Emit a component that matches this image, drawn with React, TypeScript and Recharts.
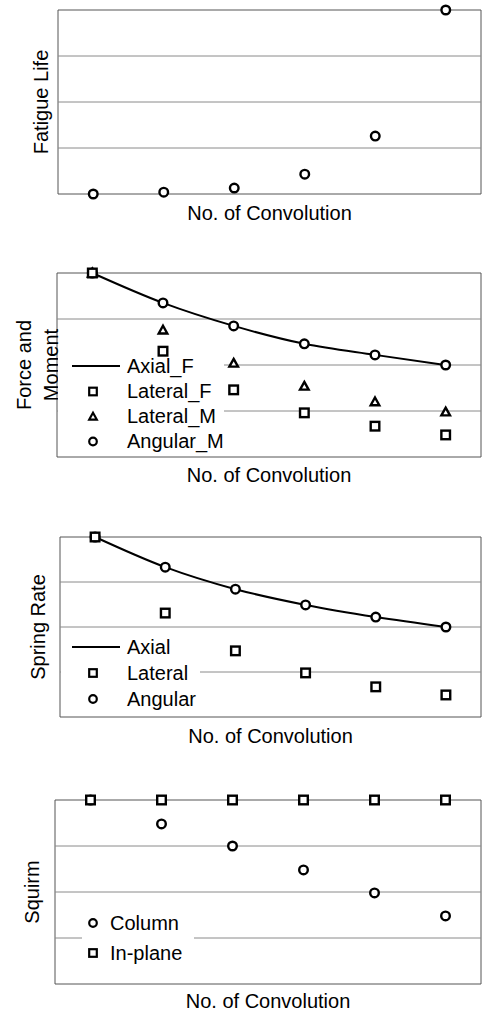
import React from 'react';
import {
  ComposedChart,
  Line,
  Scatter,
  XAxis,
  YAxis,
  ReferenceArea,
  ReferenceLine,
  Legend,
} from 'recharts';

// values, in grid units (4 divisions per panel)
const convolutions = [1, 2, 3, 4, 5, 6];
const gridTicks = [0, 1, 2, 3, 4];
const innerGrid = [1, 2, 3];

const fatigueLife = [0, 0.04, 0.13, 0.43, 1.26, 4.0];

const forceAxialF = [4.0, 3.35, 2.85, 2.46, 2.22, 2.0];
const forceLateralF = [4.0, 2.3, 1.46, 0.96, 0.67, 0.48];
const forceLateralM = [4.0, 2.76, 2.04, 1.54, 1.2, 0.98];
const forceAngularM = [4.0, 3.35, 2.85, 2.46, 2.22, 2.0];

const springAxial = [4.0, 3.33, 2.84, 2.49, 2.22, 2.0];
const springLateral = [4.0, 2.31, 1.47, 0.98, 0.67, 0.49];
const springAngular = [4.0, 3.33, 2.84, 2.49, 2.22, 2.0];

const squirmColumn = [4.0, 3.48, 3.0, 2.48, 1.98, 1.48];
const squirmInPlane = [4.0, 4.0, 4.0, 4.0, 4.0, 4.0];

const FONT = '"Liberation Sans", Arial, sans-serif';
const X_LABEL = 'No. of Convolution';

type Kind = 'circle' | 'square' | 'triangle' | 'line';

const fatigueData = convolutions.map((n, i) => ({ n, life: fatigueLife[i] }));
const forceData = convolutions.map((n, i) => ({
  n,
  axialF: forceAxialF[i],
  lateralF: forceLateralF[i],
  lateralM: forceLateralM[i],
  angularM: forceAngularM[i],
}));
const springData = convolutions.map((n, i) => ({
  n,
  axial: springAxial[i],
  lateral: springLateral[i],
  angular: springAngular[i],
}));
const squirmData = convolutions.map((n, i) => ({
  n,
  column: squirmColumn[i],
  inPlane: squirmInPlane[i],
}));

function Mark({ kind, cx, cy, r, sw = 2.4 }: { kind: Kind; cx: number; cy: number; r: number; sw?: number }) {
  if (kind === 'square') {
    return (
      <rect x={cx - r} y={cy - r} width={2 * r} height={2 * r} fill="#fff" stroke="#000" strokeWidth={sw} />
    );
  }
  if (kind === 'triangle') {
    return (
      <polygon
        points={`${cx},${cy - r} ${cx + r},${cy + r * 0.8} ${cx - r},${cy + r * 0.8}`}
        fill="#fff"
        stroke="#000"
        strokeWidth={sw}
      />
    );
  }
  if (kind === 'line') {
    return <line x1={cx - 24} x2={cx + 24} y1={cy} y2={cy} stroke="#000" strokeWidth={2} />;
  }
  return <circle cx={cx} cy={cy} r={r} fill="#fff" stroke="#000" strokeWidth={sw} />;
}

const shape = (kind: Kind) => (p: any) => <Mark kind={kind} cx={p.cx} cy={p.cy} r={4.3} />;

const yLabel = (lines: string[], xs: number[]) => (props: any) => {
  const vb = props.viewBox;
  const cy = vb.y + vb.height / 2;
  return (
    <g>
      {lines.map((t, i) => (
        <text
          key={t}
          x={xs[i]}
          y={cy}
          transform={`rotate(-90, ${xs[i]}, ${cy})`}
          textAnchor="middle"
          dominantBaseline="central"
          fontSize={20}
          fontFamily={FONT}
          fill="#000"
        >
          {t}
        </text>
      ))}
    </g>
  );
};

// legend rows: first row may be shorter so the white box does not cover marks above it
function legendBox(
  items: { name: string; kind: Kind }[],
  rowH: number,
  firstH: number,
  iconW: number,
  markX: number,
  gap: number,
  padL: number,
  padR: number
) {
  return () => (
    <div style={{ background: '#fff', paddingLeft: padL, paddingRight: padR, fontFamily: FONT }}>
      {items.map((it, i) => {
        const h = i === 0 ? firstH : rowH;
        return (
          <div
            key={it.name}
            style={{
              display: 'flex',
              alignItems: 'center',
              height: h,
              marginTop: i === 1 ? (rowH - firstH) / 2 : 0,
            }}
          >
            <svg width={iconW} height={h} style={{ display: 'block' }}>
              <Mark kind={it.kind} cx={it.kind === 'line' ? 24 : markX} cy={h / 2} r={3.8} sw={2.2} />
            </svg>
            <span style={{ marginLeft: gap, fontSize: 20, lineHeight: `${h}px`, color: '#000' }}>
              {it.name}
            </span>
          </div>
        );
      })}
    </div>
  );
}

function Frame({
  data,
  top,
  height,
  margin,
  axisW,
  axisH,
  labelOffset,
  ylabel,
  children,
}: {
  data: any[];
  top: number;
  height: number;
  margin: { top: number; right: number };
  axisW: number;
  axisH: number;
  labelOffset: number;
  ylabel: (p: any) => React.ReactElement;
  children: React.ReactNode;
}) {
  return (
    <div style={{ position: 'absolute', left: 0, top, width: 483, height }}>
      <ComposedChart
        width={483}
        height={height}
        data={data}
        margin={{ top: margin.top, right: margin.right, left: 0, bottom: 0 }}
      >
        <XAxis
          dataKey="n"
          type="number"
          domain={[0.5, 6.5]}
          ticks={convolutions}
          tick={false}
          tickLine={false}
          axisLine={false}
          height={axisH}
          label={{
            value: X_LABEL,
            position: 'insideBottom',
            offset: labelOffset,
            fontSize: 20,
            fill: '#000',
            fontFamily: FONT,
          }}
        />
        <YAxis
          type="number"
          domain={[0, 4]}
          ticks={gridTicks}
          tick={false}
          tickLine={false}
          axisLine={false}
          width={axisW}
          label={{ content: ylabel }}
        />
        {innerGrid.map((v) => (
          <ReferenceLine key={v} y={v} stroke="#8a8a8a" strokeWidth={1} />
        ))}
        <ReferenceArea x1={0.5} x2={6.5} y1={0} y2={4} fill="none" stroke="#555" strokeWidth={1} />
        {children}
      </ComposedChart>
    </div>
  );
}

export default function App() {
  return (
    <div
      style={{
        position: 'absolute',
        left: 0,
        top: 0,
        width: 483,
        height: 1014,
        background: '#fff',
        fontFamily: FONT,
      }}
    >
      <Frame
        data={fatigueData}
        top={0}
        height={232}
        margin={{ top: 10, right: 2 }}
        axisW={58}
        axisH={38}
        labelOffset={12}
        ylabel={yLabel(['Fatigue Life'], [41])}
      >
        <Scatter dataKey="life" shape={shape('circle')} isAnimationActive={false} />
      </Frame>

      <Frame
        data={forceData}
        top={260}
        height={235}
        margin={{ top: 13, right: 2 }}
        axisW={57}
        axisH={38}
        labelOffset={13}
        ylabel={yLabel(['Force and', 'Moment'], [24, 51])}
      >
        <Legend
          layout="vertical"
          align="center"
          verticalAlign="middle"
          wrapperStyle={{ left: 58, top: 97, width: 'auto' }}
          content={legendBox(
            [
              { name: 'Axial_F', kind: 'line' },
              { name: 'Lateral_F', kind: 'square' },
              { name: 'Lateral_M', kind: 'triangle' },
              { name: 'Angular_M', kind: 'circle' },
            ],
            25,
            18,
            49,
            21,
            6,
            14,
            0
          )}
        />
        <Line
          dataKey="axialF"
          type="monotone"
          stroke="#000"
          strokeWidth={2}
          dot={false}
          isAnimationActive={false}
        />
        <Scatter dataKey="angularM" shape={shape('circle')} isAnimationActive={false} />
        <Scatter dataKey="lateralM" shape={shape('triangle')} isAnimationActive={false} />
        <Scatter dataKey="lateralF" shape={shape('square')} isAnimationActive={false} />
      </Frame>

      <Frame
        data={springData}
        top={525}
        height={230}
        margin={{ top: 12, right: 2 }}
        axisW={60}
        axisH={38}
        labelOffset={12}
        ylabel={yLabel(['Spring Rate'], [38])}
      >
        <Legend
          layout="vertical"
          align="center"
          verticalAlign="middle"
          wrapperStyle={{ left: 61, top: 109, width: 'auto' }}
          content={legendBox(
            [
              { name: 'Axial', kind: 'line' },
              { name: 'Lateral', kind: 'square' },
              { name: 'Angular', kind: 'circle' },
            ],
            26,
            26,
            49,
            21,
            6,
            11,
            4
          )}
        />
        <Line
          dataKey="axial"
          type="monotone"
          stroke="#000"
          strokeWidth={2}
          dot={false}
          isAnimationActive={false}
        />
        <Scatter dataKey="angular" shape={shape('circle')} isAnimationActive={false} />
        <Scatter dataKey="lateral" shape={shape('square')} isAnimationActive={false} />
      </Frame>

      <Frame
        data={squirmData}
        top={785}
        height={229}
        margin={{ top: 15, right: 2 }}
        axisW={55}
        axisH={30}
        labelOffset={6}
        ylabel={yLabel(['Squirm'], [32])}
      >
        <Legend
          layout="vertical"
          align="center"
          verticalAlign="middle"
          wrapperStyle={{ left: 82, top: 123, width: 'auto' }}
          content={legendBox(
            [
              { name: 'Column', kind: 'circle' },
              { name: 'In-plane', kind: 'square' },
            ],
            30,
            30,
            14,
            7,
            10,
            4,
            12
          )}
        />
        <Scatter dataKey="column" shape={shape('circle')} isAnimationActive={false} />
        <Scatter dataKey="inPlane" shape={shape('square')} isAnimationActive={false} />
      </Frame>
    </div>
  );
}
